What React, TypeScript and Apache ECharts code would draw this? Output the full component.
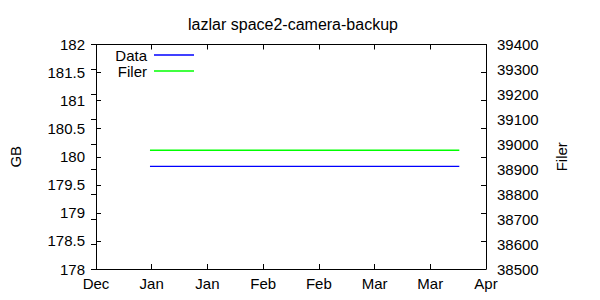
import React, { useEffect, useRef } from "react";
import * as echarts from "echarts";

const BASE_DATE = "2011-12-28T00:00:00Z";
const xTickStepDays = 14;
const xRangeDays = 98;
const monthNames = ["Jan", "Feb", "Mar", "Apr", "May", "Jun", "Jul", "Aug", "Sep", "Oct", "Nov", "Dec"];
const sampleDates = ["2012-01-10T13:30:00Z", "2012-03-28T07:00:00Z"];
const dataGB = [179.83, 179.83];
const filerValues = [38976, 38976];
const seriesNames = ["Data", "Filer"];
const seriesColors = ["#0000ff", "#00ff00"];

const DAY = 86400000;
const baseMs = Date.parse(BASE_DATE);
const toDays = (d: string) => (Date.parse(d) - baseMs) / DAY;

const FONT = "Liberation Sans";
const FS = 15;

export default function App() {
  const ref = useRef<HTMLDivElement>(null);
  useEffect(() => {
    if (!ref.current) return;
    const chart = echarts.init(ref.current, null, { renderer: "svg" });
    const labelStyle = { color: "#000", fontFamily: FONT, fontSize: FS };
    const axisLine = { show: true, lineStyle: { color: "#000", width: 1 } };
    const tick = { show: true, inside: true, length: 5, lineStyle: { color: "#000" } };
    chart.setOption({
      animation: false,
      backgroundColor: "#fff",
      title: {
        text: "lazlar space2-camera-backup",
        left: 288,
        top: 11,
        textAlign: "center",
        textStyle: { color: "#000", fontFamily: FONT, fontSize: 16, fontWeight: "normal" },
      },
      grid: { left: 92, right: 114, top: 44.5, bottom: 31, containLabel: false },
      xAxis: [
        {
          type: "value",
          position: "bottom",
          min: 0,
          max: xRangeDays,
          interval: xTickStepDays,
          axisLine,
          axisTick: tick,
          splitLine: { show: false },
          axisLabel: {
            ...labelStyle,
            margin: 7,
            formatter: (v: number) => monthNames[new Date(baseMs + v * DAY).getUTCMonth()],
          },
        },
        {
          type: "value",
          position: "top",
          min: 0,
          max: xRangeDays,
          interval: xTickStepDays,
          axisLine,
          axisTick: tick,
          splitLine: { show: false },
          axisLabel: { show: false },
        },
      ],
      yAxis: [
        {
          type: "value",
          position: "left",
          min: 178,
          max: 182,
          interval: 0.5,
          name: "GB",
          nameLocation: "middle",
          nameRotate: 90,
          nameGap: 73,
          nameTextStyle: labelStyle,
          axisLine,
          axisTick: tick,
          splitLine: { show: false },
          axisLabel: { ...labelStyle, margin: 11, formatter: (v: number) => String(v) },
        },
        {
          type: "value",
          position: "right",
          min: 38500,
          max: 39400,
          interval: 100,
          name: "Filer",
          nameLocation: "middle",
          nameRotate: 90,
          nameGap: 68,
          nameTextStyle: labelStyle,
          axisLine,
          axisTick: tick,
          splitLine: { show: false },
          axisLabel: { ...labelStyle, margin: 11, formatter: (v: number) => String(v) },
        },
        {
          type: "value",
          position: "right",
          min: 178,
          max: 182,
          interval: 0.5,
          axisLine,
          axisTick: tick,
          splitLine: { show: false },
          axisLabel: { show: false },
        },
      ],
      graphic: [
        {
          type: "text",
          x: 147,
          y: 55,
          style: { text: seriesNames[0], fill: "#000", font: `${FS}px ${FONT}`, textAlign: "right", textVerticalAlign: "middle" },
        },
        {
          type: "line",
          shape: { x1: 154, y1: 55, x2: 194, y2: 55 },
          style: { stroke: seriesColors[0], lineWidth: 1.3, fill: null },
        },
        {
          type: "text",
          x: 147,
          y: 71,
          style: { text: seriesNames[1], fill: "#000", font: `${FS}px ${FONT}`, textAlign: "right", textVerticalAlign: "middle" },
        },
        {
          type: "line",
          shape: { x1: 154, y1: 71, x2: 194, y2: 71 },
          style: { stroke: seriesColors[1], lineWidth: 1.3, fill: null },
        },
      ],
      series: [
        {
          name: seriesNames[0],
          type: "line",
          xAxisIndex: 0,
          yAxisIndex: 0,
          symbol: "none",
          lineStyle: { color: seriesColors[0], width: 1.3 },
          itemStyle: { color: seriesColors[0] },
          data: sampleDates.map((d, i) => [toDays(d), dataGB[i]]),
        },
        {
          name: seriesNames[1],
          type: "line",
          xAxisIndex: 0,
          yAxisIndex: 1,
          symbol: "none",
          lineStyle: { color: seriesColors[1], width: 1.3 },
          itemStyle: { color: seriesColors[1] },
          data: sampleDates.map((d, i) => [toDays(d), filerValues[i]]),
        },
      ],
    });
    return () => chart.dispose();
  }, []);
  return <div ref={ref} style={{ width: 600, height: 300, position: "absolute", left: 0, top: 0 }} />;
}
